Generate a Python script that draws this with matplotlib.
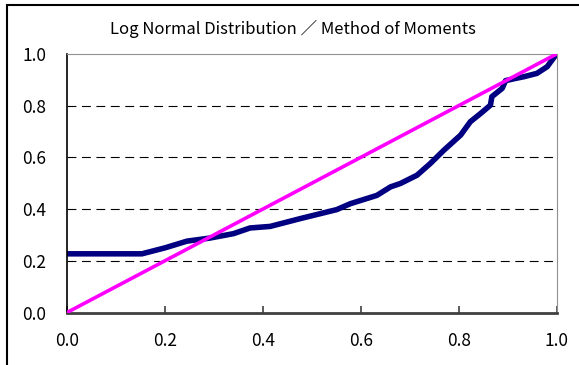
import numpy as np
import matplotlib.pyplot as plt
from matplotlib.patches import Rectangle

plt.rcParams['font.family'] = ['Noto Sans CJK JP', 'DejaVu Sans']

# empirical vs. fitted probabilities (P-P plot)
p_theory = [0.0, 0.05, 0.10, 0.153, 0.20, 0.245, 0.292, 0.340, 0.374, 0.415,
            0.476, 0.551, 0.579, 0.633, 0.661, 0.681, 0.715, 0.742, 0.756,
            0.770, 0.804, 0.824, 0.845, 0.865, 0.868, 0.889, 0.896, 0.915,
            0.933, 0.960, 0.981, 1.0]
p_sample = [0.227, 0.227, 0.227, 0.227, 0.250, 0.276, 0.288, 0.305, 0.327,
            0.333, 0.363, 0.398, 0.421, 0.453, 0.486, 0.499, 0.531, 0.576,
            0.602, 0.628, 0.686, 0.738, 0.770, 0.802, 0.835, 0.867, 0.897,
            0.905, 0.912, 0.925, 0.951, 1.0]
ref_line = [0.0, 1.0]

yticks = [0.0, 0.2, 0.4, 0.6, 0.8, 1.0]
xticks = [0.0, 0.2, 0.4, 0.6, 0.8, 1.0]
title = "Log Normal Distribution ／ Method of Moments"

fig = plt.figure(figsize=(5.79, 3.65), dpi=100)
ax = fig.add_axes([67 / 579, 1 - 312.5 / 365, 489.5 / 579, 258.5 / 365])

for v in yticks[1:-1]:
    ax.axhline(v, color='black', lw=0.8, dashes=(8, 5), zorder=1)

ax.plot(p_theory, p_sample, color='#000080', lw=4, zorder=2,
        solid_capstyle='round', solid_joinstyle='round')
ax.plot(ref_line, ref_line, color='#FF00FF', lw=2.6, zorder=3)

ax.set_xlim(0, 1)
ax.set_ylim(0, 1)
ax.set_xticks(xticks)
ax.set_yticks(yticks)
ax.set_xticklabels([f"{v:.1f}" for v in xticks])
ax.set_yticklabels([f"{v:.1f}" for v in yticks])
ax.tick_params(axis='x', direction='in', length=5, width=1.2,
               color='#404040', pad=14, labelsize=12.5)
ax.tick_params(axis='y', length=0, pad=15, labelsize=12.5)

ax.spines['left'].set_color('black')
ax.spines['left'].set_linewidth(1.2)
ax.spines['bottom'].set_color('#404040')
ax.spines['bottom'].set_linewidth(2)
ax.spines['top'].set_color('#909090')
ax.spines['right'].set_color('#909090')

fig.text(293 / 579, 1 - 29 / 365, title, ha='center', va='center', fontsize=12)

# chart frame
fig.patches.append(Rectangle((7 / 579, -0.1), 1.1, 1 - 5 / 365 + 0.1,
                             transform=fig.transFigure, fill=False,
                             edgecolor='black', lw=1.5, clip_on=False))

fig.savefig('out.png', dpi=100)
